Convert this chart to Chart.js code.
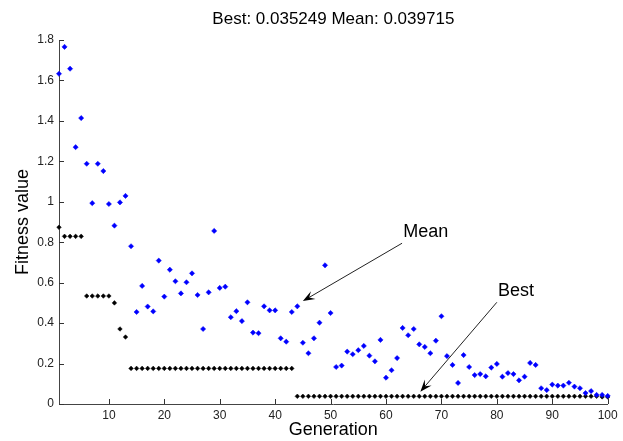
<!DOCTYPE html>
<html>
<head>
<meta charset="utf-8">
<script src="https://cdn.jsdelivr.net/npm/chart.js@4/dist/chart.umd.min.js"></script>
<style>
html,body{margin:0;padding:0;background:#fff;}
#wrap{width:623px;height:441px;}
</style>
</head>
<body>
<div id="wrap"><canvas id="c" width="623" height="441"></canvas></div>
<script>
// ---- data ----
const titleText = "Best: 0.035249 Mean: 0.039715";
const xTicks = [10, 20, 30, 40, 50, 60, 70, 80, 90, 100];
const yTicks = [0, 0.2, 0.4, 0.6, 0.8, 1, 1.2, 1.4, 1.6, 1.8];
const bestValues = [
  0.874, 0.829, 0.829, 0.829, 0.829, 0.534, 0.534, 0.534, 0.534, 0.534,
  0.500, 0.371, 0.331, 0.176, 0.176, 0.176, 0.176, 0.176, 0.176, 0.176,
  0.176, 0.176, 0.176, 0.176, 0.176, 0.176, 0.176, 0.176, 0.176, 0.176,
  0.176, 0.176, 0.176, 0.176, 0.176, 0.176, 0.176, 0.176, 0.176, 0.176,
  0.176, 0.176, 0.176, 0.038, 0.038, 0.038, 0.038, 0.038, 0.038, 0.038,
  0.038, 0.038, 0.038, 0.038, 0.038, 0.038, 0.038, 0.038, 0.038, 0.038,
  0.038, 0.038, 0.038, 0.038, 0.038, 0.038, 0.038, 0.038, 0.038, 0.038,
  0.038, 0.038, 0.038, 0.038, 0.038, 0.038, 0.038, 0.038, 0.038, 0.038,
  0.038, 0.038, 0.038, 0.038, 0.038, 0.038, 0.038, 0.038, 0.038, 0.038,
  0.038, 0.038, 0.038, 0.038, 0.038, 0.038, 0.038, 0.038, 0.0352, 0.0352
];
const meanValues = [
  1.633, 1.766, 1.658, 1.270, 1.414, 1.188, 0.993, 1.188, 1.152, 0.989,
  0.882, 0.997, 1.029, 0.780, 0.455, 0.584, 0.482, 0.458, 0.709, 0.531,
  0.664, 0.607, 0.547, 0.602, 0.646, 0.539, 0.371, 0.552, 0.856, 0.574,
  0.580, 0.429, 0.459, 0.410, 0.503, 0.353, 0.350, 0.483, 0.463, 0.463,
  0.325, 0.308, 0.455, 0.483, 0.303, 0.251, 0.325, 0.402, 0.686, 0.450,
  0.183, 0.190, 0.259, 0.246, 0.266, 0.287, 0.239, 0.211, 0.317, 0.130,
  0.167, 0.227, 0.376, 0.340, 0.371, 0.295, 0.282, 0.251, 0.313, 0.434,
  0.237, 0.193, 0.104, 0.242, 0.183, 0.143, 0.148, 0.137, 0.180, 0.198,
  0.135, 0.153, 0.148, 0.117, 0.135, 0.203, 0.193, 0.078, 0.069, 0.096,
  0.091, 0.091, 0.105, 0.086, 0.078, 0.054, 0.064, 0.045, 0.045, 0.0397
];
// annotations in data coordinates
const annotationLabels = ["Mean", "Best"];
const annotationText = [[63.1, 0.851], [80.2, 0.560]];
const annotationArrows = [[62.9, 0.795, 45.0, 0.509], [80.0, 0.503, 66.2, 0.061]];

const FONT = "'Liberation Sans', Arial, sans-serif";

const toPoints = vals => vals.map((v, i) => ({x: i + 1, y: v}));

const extras = {
  id: 'extras',
  afterDraw(chart) {
    const ctx = chart.ctx;
    const xs = chart.scales.x, ys = chart.scales.y;
    ctx.save();
    // inward tick marks
    ctx.strokeStyle = '#333';
    ctx.lineWidth = 1;
    ctx.beginPath();
    xTicks.forEach(t => {
      const px = Math.round(xs.getPixelForValue(t)) + 0.5;
      ctx.moveTo(px, ys.bottom);
      ctx.lineTo(px, ys.bottom - 5);
    });
    yTicks.forEach(t => {
      const py = Math.round(ys.getPixelForValue(t)) + 0.5;
      ctx.moveTo(xs.left, py);
      ctx.lineTo(xs.left + 5, py);
    });
    ctx.stroke();
    // annotations
    annotationLabels.forEach((lab, i) => {
      const [tx, ty] = annotationText[i];
      const [ax0, ay0, ax1, ay1] = annotationArrows[i];
      const x0 = xs.getPixelForValue(ax0), y0 = ys.getPixelForValue(ay0);
      const x1 = xs.getPixelForValue(ax1), y1 = ys.getPixelForValue(ay1);
      const ang = Math.atan2(y1 - y0, x1 - x0);
      const L = 12, W = 4.5;
      ctx.strokeStyle = '#222';
      ctx.lineWidth = 1;
      ctx.beginPath();
      ctx.moveTo(x0, y0);
      ctx.lineTo(x1 - Math.cos(ang) * 6, y1 - Math.sin(ang) * 6);
      ctx.stroke();
      ctx.fillStyle = '#000';
      ctx.beginPath();
      const bx = x1 - Math.cos(ang) * L, by = y1 - Math.sin(ang) * L;
      const nx = -Math.sin(ang), ny = Math.cos(ang);
      const mx = x1 - Math.cos(ang) * (L * 0.6), my = y1 - Math.sin(ang) * (L * 0.6);
      ctx.moveTo(x1, y1);
      ctx.lineTo(bx + nx * W, by + ny * W);
      ctx.lineTo(mx, my);
      ctx.lineTo(bx - nx * W, by - ny * W);
      ctx.closePath();
      ctx.fill();
      ctx.fillStyle = '#000';
      ctx.font = '18px ' + FONT;
      ctx.textAlign = 'left';
      ctx.textBaseline = 'middle';
      ctx.fillText(lab, xs.getPixelForValue(tx), ys.getPixelForValue(ty));
    });
    ctx.restore();
  }
};

new Chart(document.getElementById('c'), {
  type: 'scatter',
  data: {
    datasets: [
      {
        label: 'Mean',
        data: toPoints(meanValues),
        backgroundColor: '#0000ff',
        borderColor: '#0000ff',
        pointStyle: 'rectRot',
        pointRadius: 2.6,
        borderWidth: 0.5,
        clip: false
      },
      {
        label: 'Best',
        data: toPoints(bestValues),
        backgroundColor: '#000000',
        borderColor: '#000000',
        pointStyle: 'rectRot',
        pointRadius: 2.3,
        borderWidth: 0.5,
        clip: false
      }
    ]
  },
  options: {
    responsive: false,
    animation: false,
    events: [],
    layout: {padding: {left: 0, right: 15.3, top: 0, bottom: 0}},
    plugins: {
      legend: {display: false},
      tooltip: {enabled: false},
      title: {
        display: true,
        text: titleText,
        color: '#000',
        fullSize: false,
        font: {family: FONT, size: 17, weight: 'normal'},
        padding: {top: 9, bottom: 10.6}
      }
    },
    scales: {
      x: {
        type: 'linear',
        min: 1,
        max: 100,
        afterBuildTicks: s => { s.ticks = xTicks.map(v => ({value: v})); },
        afterFit: s => { s.height = 37; },
        grid: {display: false, drawTicks: false},
        border: {display: true, color: '#444', width: 1},
        ticks: {color: '#222', font: {family: FONT, size: 12}, padding: 4, maxRotation: 0,
          callback: v => String(v)},
        title: {display: true, text: 'Generation', color: '#000',
          font: {family: FONT, size: 18}, padding: {top: 0, bottom: 0}}
      },
      y: {
        type: 'linear',
        min: 0,
        max: 1.8,
        afterBuildTicks: s => { s.ticks = yTicks.map(v => ({value: v})); },
        afterFit: s => { s.width = 59; },
        grid: {display: false, drawTicks: false},
        border: {display: true, color: '#444', width: 1},
        ticks: {color: '#222', font: {family: FONT, size: 12}, padding: 5,
          callback: v => String(+v.toFixed(1))},
        title: {display: true, text: 'Fitness value', color: '#000',
          font: {family: FONT, size: 18}, padding: {top: 12, bottom: 0}}
      }
    }
  },
  plugins: [extras]
});
</script>
</body>
</html>
